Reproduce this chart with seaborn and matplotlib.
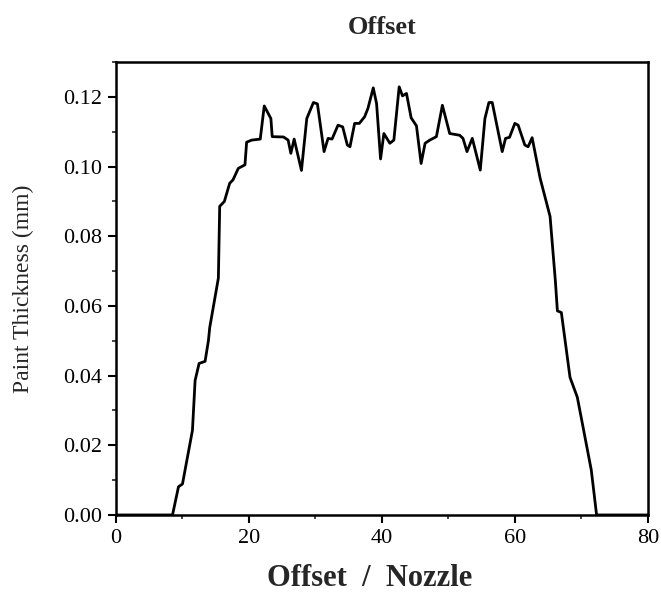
import matplotlib
matplotlib.use("Agg")
import matplotlib.pyplot as plt
from matplotlib.ticker import MultipleLocator
import seaborn as sns
import pandas as pd

# Paint thickness profile across the spray offset
offset = [0, 8.5, 9.4, 10.0, 11.5, 11.9, 12.5, 13.4, 13.9, 14.1, 15.4, 15.6, 16.3,
          17.1, 17.6, 18.4, 19.4, 19.65, 20.4, 21.7, 22.3, 23.3, 23.5, 25.2, 25.9,
          26.3, 26.8, 27.9, 28.7, 29.7, 30.3, 31.3, 31.9, 32.5, 33.4, 34.1, 34.8,
          35.2, 35.9, 36.6, 37.4, 37.9, 38.7, 39.2, 39.8, 40.3, 41.2, 41.8, 42.6,
          43.1, 43.7, 44.4, 45.2, 45.9, 46.5, 47.2, 48.2, 49.1, 50.2, 51.7, 52.2,
          52.8, 53.6, 54.8, 55.5, 56.1, 56.6, 58.1, 58.6, 59.2, 60.0, 60.5, 61.5,
          62.0, 62.6, 63.8, 65.3, 66.1, 66.4, 67.0, 68.3, 69.4, 71.5, 72.3, 80]
thickness = [0.0, 0.0, 0.0081, 0.0089, 0.0243, 0.0386, 0.0435, 0.0441, 0.050, 0.0538,
             0.068, 0.0886, 0.090, 0.0952, 0.0962, 0.0995, 0.1005, 0.107, 0.1076,
             0.1079, 0.1174, 0.1138, 0.1086, 0.1085, 0.1076, 0.1038, 0.1079, 0.0989,
             0.1138, 0.1184, 0.1180, 0.1043, 0.1081, 0.1079, 0.1119, 0.1114, 0.1062,
             0.1057, 0.1124, 0.1124, 0.1143, 0.1167, 0.1226, 0.1181, 0.1022, 0.1095,
             0.1067, 0.1076, 0.1229, 0.1203, 0.1210, 0.1140, 0.1117, 0.1009, 0.1067,
             0.1076, 0.1086, 0.1176, 0.1095, 0.1090, 0.1081, 0.1043, 0.1081, 0.0990,
             0.1138, 0.1184, 0.1184, 0.1043, 0.1081, 0.1084, 0.1124, 0.1119, 0.1062,
             0.1057, 0.1083, 0.0967, 0.0857, 0.0671, 0.0586, 0.0581, 0.0395, 0.0338,
             0.0129, 0.0, 0.0]

x_ticks = [0, 20, 40, 60, 80]
y_ticks = [0.00, 0.02, 0.04, 0.06, 0.08, 0.10, 0.12]

df = pd.DataFrame({"Offset": offset, "Thickness": thickness})

sns.set_theme(style="ticks")
plt.rcParams["font.family"] = ["Liberation Serif", "DejaVu Serif"]

fig = plt.figure(figsize=(6.61, 5.97), dpi=100)
ax = fig.add_axes([0.1755, 0.1374, 0.8045, 0.7586])

sns.lineplot(data=df, x="Offset", y="Thickness", ax=ax, color="black",
             linewidth=2.0, sort=False)

ax.set_xlim(0, 80)
ax.set_ylim(0, 0.13)
ax.set_xticks(x_ticks)
ax.set_yticks(y_ticks)
ax.set_xticklabels([str(v) for v in x_ticks])
ax.set_yticklabels([f"{v:.2f}" for v in y_ticks])
ax.xaxis.set_minor_locator(MultipleLocator(10))
ax.yaxis.set_minor_locator(MultipleLocator(0.01))
ax.tick_params(which="major", direction="out", length=6, width=1.5,
               labelsize=16, colors="black", pad=4)
ax.tick_params(which="minor", direction="out", length=3, width=1.2)
ax.tick_params(top=False, right=False)

for side in ["left", "bottom", "top", "right"]:
    ax.spines[side].set_visible(True)
    ax.spines[side].set_color("black")
    ax.spines[side].set_linewidth(1.8)

ax.set_title("Offset", fontsize=19, fontweight="bold", pad=20)
ax.set_xlabel("Offset  /  Nozzle", fontsize=22, fontweight="bold")
ax.xaxis.set_label_coords(0.477, -0.108)
ax.set_ylabel("Paint Thickness (mm)", fontsize=17)
ax.yaxis.set_label_coords(-0.155, 0.5)

fig.savefig("out.png", dpi=100, facecolor="white")
